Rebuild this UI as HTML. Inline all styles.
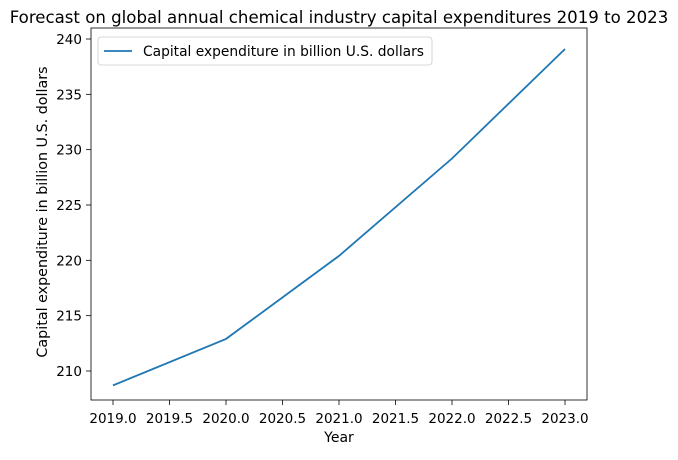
<!DOCTYPE html>
<html><head><meta charset="utf-8"><style>
body{margin:0;background:#fff;}
svg text{font-family:"DejaVu Sans","Liberation Sans",sans-serif;fill:#000;}
</style></head><body>
<svg id="chart" width="678" height="455" xmlns="http://www.w3.org/2000/svg"></svg>
<script>
const years=[2019,2020,2021,2022,2023];
const capex=[208.7,212.9,220.4,229.2,239.1];
const xTicks=[2019.0,2019.5,2020.0,2020.5,2021.0,2021.5,2022.0,2022.5,2023.0];
const yTicks=[210,215,220,225,230,235,240];
const L=91,R=587,T=28,B=400;
const xs=v=>113+(v-2019)*113;
const ys=v=>371-(v-210)*332/30;
const svg=document.getElementById('chart');
const NS='http://www.w3.org/2000/svg';
function mk(tag,attrs,parent){const e=document.createElementNS(NS,tag);for(const k in attrs)e.setAttribute(k,attrs[k]);(parent||svg).appendChild(e);return e;}
const title=mk('text',{x:339,y:23,'text-anchor':'middle','font-size':16.6});
title.textContent='Forecast on global annual chemical industry capital expenditures 2019 to 2023';


const xg=mk('g',{});


xTicks.forEach(t=>{const x=xs(t);mk('line',{x1:x,x2:x,y1:B,y2:B+5,stroke:'#000','stroke-width':0.8},xg);
const tx=mk('text',{x:x,y:B+23,'text-anchor':'middle','font-size':13.5},xg);tx.textContent=t.toFixed(1);

});
const yg=mk('g',{});


yTicks.forEach(t=>{const y=ys(t);mk('line',{x1:L-5,x2:L,y1:y,y2:y,stroke:'#000','stroke-width':0.8},yg);
const tx=mk('text',{x:L-9,y:y+5,'text-anchor':'end','font-size':13.5},yg);tx.textContent=t;

});
const xt=mk('text',{x:(L+R)/2,y:442,'text-anchor':'middle','font-size':14});xt.textContent='Year';


const yt=mk('text',{x:0,y:0,'text-anchor':'middle','font-size':14.3,transform:`translate(47,212) rotate(-90)`});yt.textContent='Capital expenditure in billion U.S. dollars';


const line=mk('polyline',{points:years.map((y,i)=>xs(y)+','+ys(capex[i])).join(' '),fill:'none',stroke:'#1f77b4','stroke-width':1.8});


const frame=mk('rect',{x:L,y:T,width:R-L,height:B-T,fill:'none',stroke:'#000','stroke-width':0.8});


const lg=mk('g',{});


mk('rect',{x:98,y:37,width:334,height:28,rx:3,fill:'#fff',stroke:'#ccc','stroke-width':0.8},lg);
mk('line',{x1:104,x2:132,y1:51,y2:51,stroke:'#1f77b4','stroke-width':1.8},lg);
const lt=mk('text',{x:143,y:56,'font-size':13.8},lg);lt.textContent='Capital expenditure in billion U.S. dollars';


</script>
</body></html>
